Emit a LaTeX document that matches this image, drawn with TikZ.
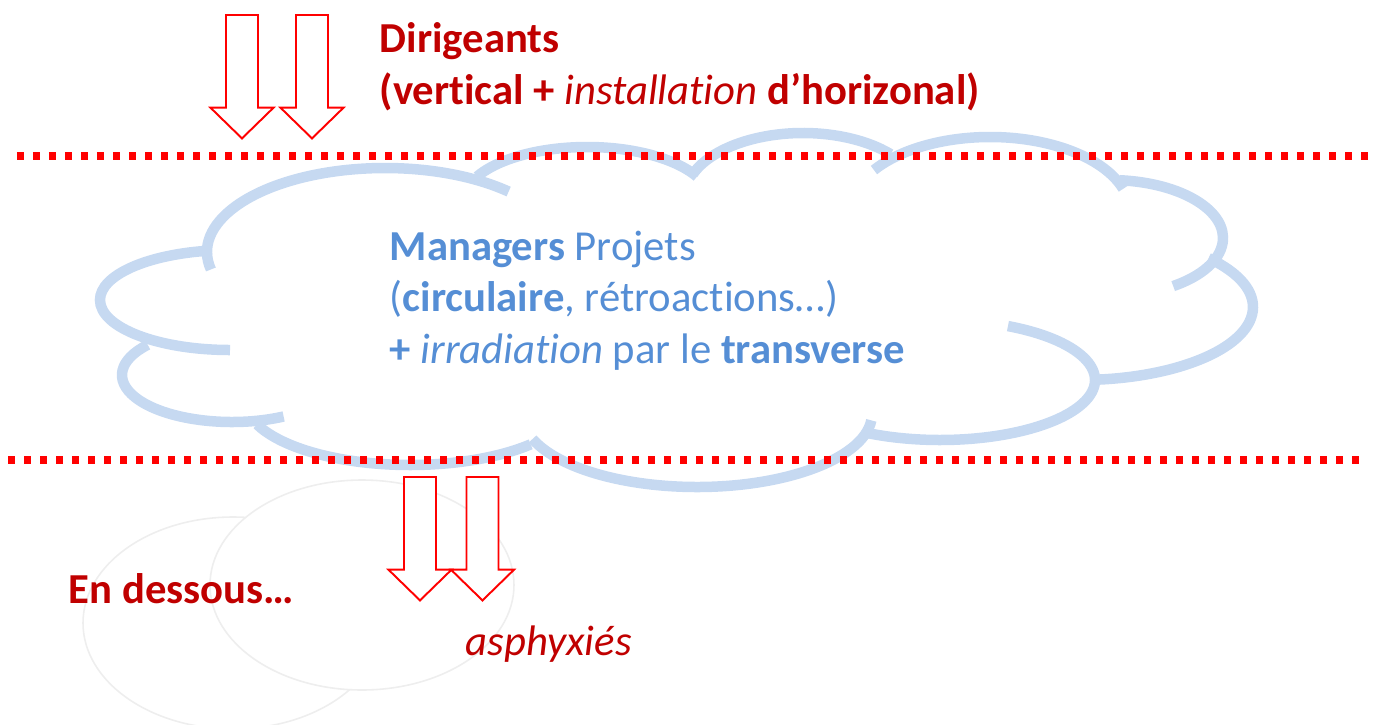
\documentclass[tikz,border=0pt]{standalone}
\usepackage{fontspec}
\setmainfont{Carlito}[Ligatures=NoCommon]
\usepackage{xcolor}
\usepackage{tikz}
\usetikzlibrary{positioning}

\definecolor{cloudblue}{RGB}{198,217,241}
\definecolor{textblue}{RGB}{85,142,213}
\definecolor{darkred}{RGB}{192,0,0}
\definecolor{linered}{RGB}{255,0,0}
\definecolor{ghost}{RGB}{238,238,238}

\begin{document}
\begin{tikzpicture}[
  every node/.style={font=\fontsize{12.15}{14.65}\selectfont, align=left, inner sep=0pt},
  lobe/.style={draw=cloudblue, line width=1.05mm},
  sepline/.style={draw=linered, line width=0.8mm, dash pattern=on 0.7mm off 0.9mm},
  blockarrow/.style={draw=linered, fill=white, line width=0.55pt, line join=miter},
  ghostring/.style={draw=ghost, fill=white, line width=0.45pt},
  redtxt/.style={text=darkred, anchor=base west},
  bluetxt/.style={text=textblue, anchor=base west},
]
  \useasboundingbox (0,0) rectangle (13.76,-7.24);

  % faint rings in the lower left corner
  \draw[ghostring] (2.33,-6.23) ellipse [x radius=1.50, y radius=1.06];
  \draw[ghostring] (3.62,-5.85) ellipse [x radius=1.52, y radius=1.05];

  % cloud, one elliptic arc per lobe: centre / radii / angles
  \foreach \cx/\cy/\rx/\ry/\sa/\ea in {
      3.85/-2.52/1.78/0.84/192/46,
      5.87/-2.02/1.24/0.55/152.5/27.5,
      8.03/-1.97/1.18/0.64/159/42,
      9.90/-2.12/1.40/0.75/146/18,
      11.10/-2.38/1.13/0.58/85/-56,
      10.80/-3.07/1.73/0.73/42/-84,
      9.40/-3.80/1.55/0.60/64/-120,
      6.97/-4.14/1.75/0.73/-5/-160,
      4.10/-4.00/1.65/0.65/-43/-158,
      2.32/-3.75/1.10/0.47/-62/-220,
      2.30/-3.00/1.30/0.50/-90/-262}
    \draw[lobe] (\cx,\cy) ++({\rx*cos(\sa)},{\ry*sin(\sa)})
      arc[start angle=\sa, end angle=\ea, x radius=\rx, y radius=\ry];

  % dotted separators
  \draw[sepline] (0.17,-1.555) -- (13.72,-1.555);
  \draw[sepline] (0.08,-4.60) -- (13.62,-4.60);

  % block arrows, given by the top of the shaft
  \foreach \ax/\ay in {2.42/-0.15, 3.12/-0.15, 4.20/-4.77, 4.825/-4.77}
    \draw[blockarrow] (\ax,\ay) ++(-0.16,0) -- ++(0,-0.927) -- ++(-0.155,0)
      -- ++(0.315,-0.307) -- ++(0.315,0.307) -- ++(-0.155,0) -- ++(0,0.927) -- cycle;

  % base anchor sits on the last line of each block
  \node[redtxt] (lead) at (3.79,-1.04)
    {\textbf{Dirigeants}\\\textbf{(vertical +} \textit{installation} \textbf{d’horizonal)}};
  \node[bluetxt] (mgr) at (3.89,-3.63)
    {\textbf{Managers} Projets\\(\textbf{circulaire}, rétroactions…)\\\textbf{+} \textit{irradiation} par le \textbf{transverse}};
  \node[redtxt] (below) at (0.68,-6.03) {\textbf{En dessous…}};
  \node[redtxt] (choke) at (4.65,-6.55) {\textit{asphyxiés}};
\end{tikzpicture}
\end{document}
